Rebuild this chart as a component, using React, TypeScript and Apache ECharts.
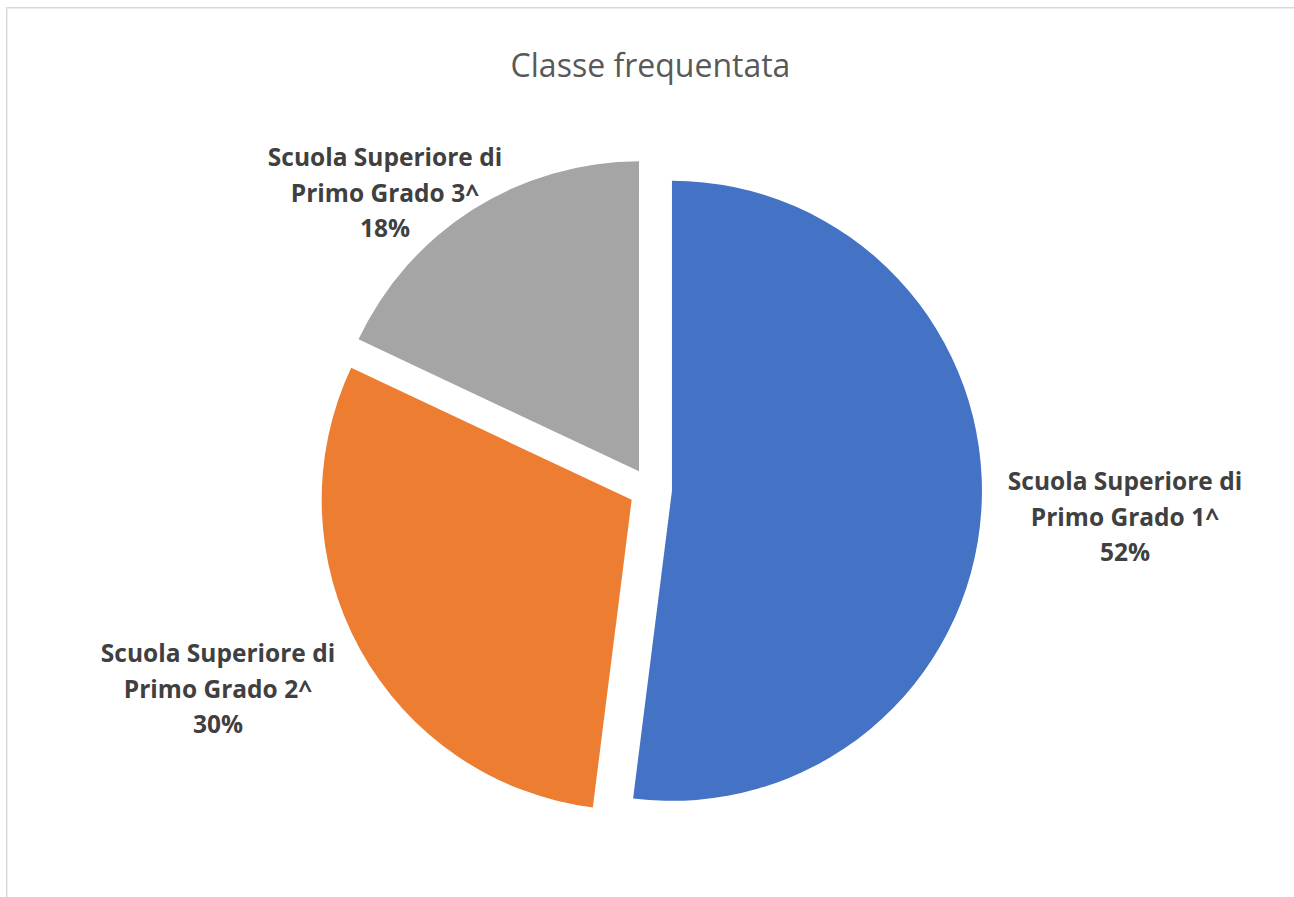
import React, { useEffect, useRef } from "react";
import * as echarts from "echarts";

const categories = [
  "Scuola Superiore di Primo Grado 1^",
  "Scuola Superiore di Primo Grado 2^",
  "Scuola Superiore di Primo Grado 3^",
];
const values = [52, 30, 18];
const colors = ["#4472C4", "#ED7D31", "#A5A5A5"];
const titleText = "Classe frequentata";

// label anchor centres (layout only)
const labelCentres = [
  [1125, 516],
  [218, 688],
  [385, 192],
];

export default function App() {
  const ref = useRef<HTMLDivElement>(null);
  useEffect(() => {
    if (!ref.current) return;
    const chart = echarts.init(ref.current, undefined, { renderer: "svg" });
    const total = values.reduce((a, b) => a + b, 0);
    const labelTexts = categories.map(
      (name, i) =>
        name.replace(" Primo", "\nPrimo") + "\n" + Math.round((values[i] / total) * 100) + "%"
    );
    chart.setOption({
      animation: false,
      backgroundColor: "#ffffff",
      title: {
        text: titleText,
        left: 645.5,
        textAlign: "center",
        top: 43,
        textStyle: {
          fontFamily: "Open Sans",
          fontSize: 32,
          fontWeight: "normal",
          color: "#595959",
        },
      },
      graphic: [
        {
          type: "rect",
          shape: { x: 6.7, y: 7.8, width: 1400, height: 1000 },
          style: { fill: "none", stroke: "#d9d9d9", lineWidth: 1.5 },
          silent: true,
        },
        ...labelTexts.map((t, i) => ({
          type: "text",
          x: labelCentres[i][0],
          y: labelCentres[i][1],
          silent: true,
          style: {
            text: t,
            fill: "#404040",
            fontFamily: "Open Sans",
            fontWeight: "bold",
            fontSize: 24.5,
            lineHeight: 35.5,
            align: "center",
            verticalAlign: "middle",
          },
        })),
      ],
      series: [
        {
          type: "pie",
          center: [650.5, 489.5],
          radius: 310,
          startAngle: 90,
          clockwise: true,
          selectedMode: "multiple",
          selectedOffset: 21.5,
          emphasis: { disabled: true },
          labelLine: { show: false },
          label: { show: false },
          data: categories.map((name, i) => ({
            name,
            value: values[i],
            selected: true,
            itemStyle: { color: colors[i], borderWidth: 0 },
            select: { itemStyle: { color: colors[i], borderWidth: 0 } },
          })),
        },
      ],
    });
    return () => chart.dispose();
  }, []);
  return (
    <div
      ref={ref}
      style={{ position: "fixed", left: 0, top: 0, width: 1294, height: 897 }}
    />
  );
}
